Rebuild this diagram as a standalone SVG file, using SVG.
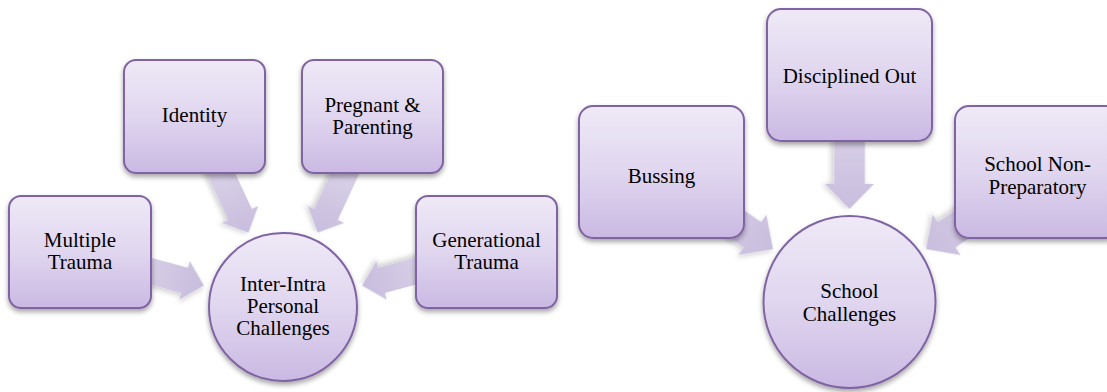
<svg xmlns="http://www.w3.org/2000/svg" xmlns:xlink="http://www.w3.org/1999/xlink" width="1107" height="392" viewBox="0 0 1107 392">
  <defs>
    <linearGradient id="nodeFill" x1="0" y1="0" x2="0" y2="1">
      <stop offset="0" stop-color="#efe9f7"/>
      <stop offset="0.5" stop-color="#e0d6ef"/>
      <stop offset="1" stop-color="#cab9e3"/>
    </linearGradient>
    <linearGradient id="arrowFill" x1="0" y1="0" x2="1" y2="0">
      <stop offset="0" stop-color="#ddd5ea"/>
      <stop offset="1" stop-color="#c8bddd"/>
    </linearGradient>
    <filter id="nodeShadow" x="-20%" y="-20%" width="140%" height="150%">
      <feDropShadow dx="0" dy="3" stdDeviation="2.5" flood-color="#000" flood-opacity="0.35"/>
    </filter>
    <filter id="arrowShadow" x="-30%" y="-30%" width="160%" height="160%">
      <feDropShadow dx="0" dy="3" stdDeviation="2.5" flood-color="#000" flood-opacity="0.18"/>
    </filter>
    <!-- block arrows pointing along +x, tip at the origin -->
    <path id="arrowSmall" d="M-85,-13 L-20,-13 L-20,-20 L0,0 L-20,20 L-20,13 L-85,13 Z"/>
    <path id="arrowLarge" d="M-100,-15.5 L-25,-15.5 L-25,-24.5 L0,0 L-25,24.5 L-25,15.5 L-100,15.5 Z"/>
  </defs>
  <style>
    .node { fill: url(#nodeFill); stroke: #8064a2; stroke-width: 2; filter: url(#nodeShadow); }
    .arrow { fill: url(#arrowFill); filter: url(#arrowShadow); }
    .label { font-family: "Liberation Serif", "Tinos", "DejaVu Serif", "Noto Serif", serif; font-size: 21px; fill: #000; text-anchor: middle; }
  </style>

  <rect width="1107" height="392" fill="#ffffff"/>

  <!-- connectors: converging arrows -->
  <g id="connectors">
    <use xlink:href="#arrowSmall" class="arrow" transform="translate(248.45,232.63) rotate(65.08)"/>
    <use xlink:href="#arrowSmall" class="arrow" transform="translate(317.55,232.63) rotate(114.92)"/>
    <use xlink:href="#arrowSmall" class="arrow" transform="translate(203.85,285.56) rotate(15.16)"/>
    <use xlink:href="#arrowSmall" class="arrow" transform="translate(362.16,285.6) rotate(164.88)"/>
    <use xlink:href="#arrowLarge" class="arrow" transform="translate(849.5,209) rotate(90)"/>
    <use xlink:href="#arrowLarge" class="arrow" transform="translate(773,249.1) rotate(34.66)"/>
    <use xlink:href="#arrowLarge" class="arrow" transform="translate(926,249.1) rotate(145.34)"/>
  </g>

  <!-- left group -->
  <g id="node-identity">
    <rect class="node" x="124" y="60" width="141" height="113" rx="12"/>
    <text class="label" x="194.5" y="122">Identity</text>
  </g>
  <g id="node-pregnant">
    <rect class="node" x="302" y="60" width="141" height="113" rx="12"/>
    <text class="label" x="372.5" y="112">Pregnant &amp;</text>
    <text class="label" x="372.5" y="134">Parenting</text>
  </g>
  <g id="node-multiple">
    <rect class="node" x="9" y="196" width="142" height="112" rx="12"/>
    <text class="label" x="80" y="247">Multiple</text>
    <text class="label" x="80" y="269">Trauma</text>
  </g>
  <g id="node-generational">
    <rect class="node" x="416" y="196" width="141" height="112" rx="12"/>
    <text class="label" x="486.5" y="247">Generational</text>
    <text class="label" x="486.5" y="269">Trauma</text>
  </g>
  <g id="node-inter-intra">
    <circle class="node" cx="283" cy="307" r="74"/>
    <text class="label" x="283" y="291">Inter-Intra</text>
    <text class="label" x="283" y="313">Personal</text>
    <text class="label" x="283" y="335">Challenges</text>
  </g>

  <!-- right group -->
  <g id="node-disciplined">
    <rect class="node" x="767" y="9" width="165" height="132" rx="14"/>
    <text class="label" x="849.5" y="83">Disciplined Out</text>
  </g>
  <g id="node-bussing">
    <rect class="node" x="579" y="106" width="165" height="132" rx="14"/>
    <text class="label" x="661.5" y="183">Bussing</text>
  </g>
  <g id="node-non-preparatory">
    <rect class="node" x="955" y="106" width="165" height="132" rx="14"/>
    <text class="label" x="1037.5" y="171">School Non-</text>
    <text class="label" x="1037.5" y="194">Preparatory</text>
  </g>
  <g id="node-school">
    <circle class="node" cx="849.5" cy="302" r="86"/>
    <text class="label" x="849.5" y="298">School</text>
    <text class="label" x="849.5" y="321">Challenges</text>
  </g>
</svg>
